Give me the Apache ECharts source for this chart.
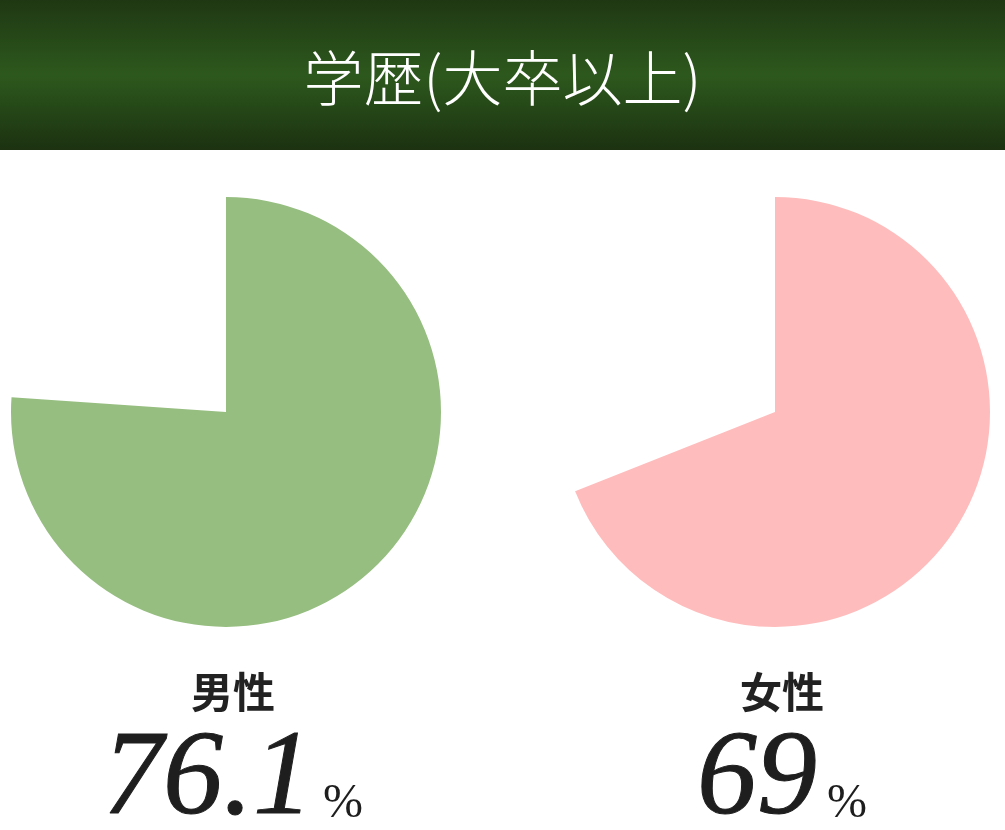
<!DOCTYPE html>
<html>
<head>
<meta charset="utf-8">
<script src="https://cdn.jsdelivr.net/npm/echarts@6/dist/echarts.min.js"></script>
<style>
  html, body { margin: 0; padding: 0; background: #fff; }
  #chart { width: 1005px; height: 830px; }
</style>
</head>
<body>
<div id="chart"></div>
<script>
// datos
const titulo = "学歴(大卒以上)";
const grupos = ["男性", "女性"];
const valores = [76.1, 69];
const colores = ["#96be80", "#ffbcbc"];

const centrosX = [226, 775];
const chart = echarts.init(document.getElementById("chart"));

const fuenteNum = "italic 120px 'Liberation Serif'";
const fuentePct = "48px 'Liberation Serif'";

// medir ancho de texto para centrar número + %
const ctx = document.createElement("canvas").getContext("2d");
function ancho(txt, font) {
  ctx.font = font;
  return ctx.measureText(txt).width;
}

const series = grupos.map((g, i) => ({
  type: "pie",
  name: g,
  center: [centrosX[i], 412],
  radius: [0, 215],
  startAngle: 90,
  clockwise: true,
  silent: true,
  label: { show: false },
  labelLine: { show: false },
  emphasis: { disabled: true },
  data: [
    { value: valores[i], name: g, itemStyle: { color: colores[i] } },
    { value: 100 - valores[i], name: "", itemStyle: { color: "rgba(0,0,0,0)" } },
  ],
}));

const textos = [];
grupos.forEach((g, i) => {
  const cx = centrosX[i] + 7;
  textos.push({
    type: "text",
    x: cx,
    y: 692,
    style: {
      text: g,
      font: "bold 42px 'Noto Sans CJK JP'",
      fill: "#222",
      align: "center",
      verticalAlign: "middle",
    },
  });
  const num = String(valores[i]);
  const wn = ancho(num, fuenteNum);
  const wp = ancho("%", fuentePct);
  const gap = 10;
  const x0 = cx - (wn + gap + wp) / 2;
  textos.push({
    type: "text",
    x: x0,
    y: 818 + 23,
    style: {
      text: num,
      font: fuenteNum,
      fill: "#1e1e1e",
      stroke: "#1e1e1e",
      lineWidth: 1,
      align: "left",
      verticalAlign: "bottom",
    },
  });
  textos.push({
    type: "text",
    x: x0 + wn + gap,
    y: 818 + 10,
    style: {
      text: "%",
      font: fuentePct,
      fill: "#1e1e1e",
      align: "left",
      verticalAlign: "bottom",
    },
  });
});

const option = {
  animation: false,
  title: {
    text: titulo,
    left: "center",
    top: 43,
    textStyle: {
      color: "#fff",
      fontFamily: "'Noto Sans CJK JP'",
      fontWeight: 300,
      fontSize: 60,
    },
  },
  graphic: [
    {
      type: "rect",
      z: -1,
      shape: { x: 0, y: 0, width: 1005, height: 150 },
      style: {
        fill: new echarts.graphic.LinearGradient(0, 0, 0, 1, [
          { offset: 0, color: "#1f3813" },
          { offset: 0.5, color: "#2d581d" },
          { offset: 1, color: "#1c3211" },
        ]),
      },
    },
    ...textos,
  ],
  series: series,
};

chart.setOption(option);
</script>
</body>
</html>
